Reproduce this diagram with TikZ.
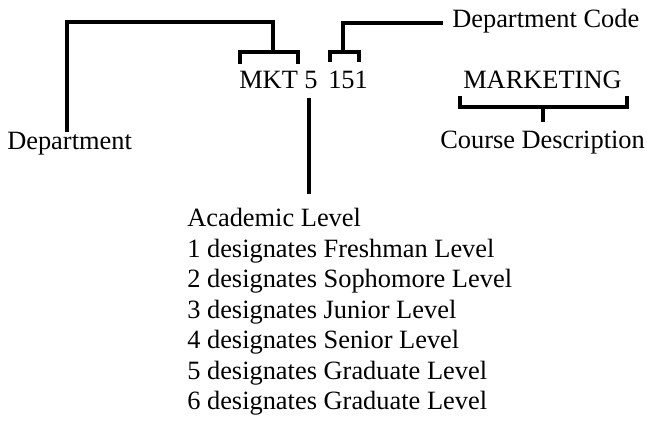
\documentclass[tikz,border=0pt]{standalone}
\usepackage{fontspec}
\setmainfont{Liberation Serif}
\usepackage{tikz}

\tikzset{lbl/.style={inner sep=0pt,anchor=base west,font=\fontsize{19.8}{23}\selectfont},
         brk/.style={line width=2.6pt}}

\begin{document}
\begin{tikzpicture}[x=0.75pt,y=-0.75pt]
\useasboundingbox (0,0) rectangle (647,421);

% the course number and its parts
\node[lbl] (mkt) at (239,88) {MKT};
\node[lbl] (five) at (304,88) {5};
\node[lbl] (num) at (328,88) {151};
\node[lbl] (mark) at (463,88) {MARKETING};

\node[lbl] (dept) at (7,149) {Department};
\node[lbl] (dcode) at (452,27) {Department Code};
\node[lbl] (cdesc) at (440,148) {Course Description};

\foreach \t [count=\i from 0] in {Academic Level,1 designates Freshman Level,%
    2 designates Sophomore Level,3 designates Junior Level,4 designates Senior Level,%
    5 designates Graduate Level,6 designates Graduate Level}{% one line each
    \node[lbl] (lvl\i) at (187,{226.5+30.5*\i}) {\t};}

\coordinate (mktL) at (240,64);
\coordinate (mktR) at (298,64);
\coordinate (mktTop) at (273,52);
\coordinate (deptTurn) at (273,22);
\coordinate (deptEnd) at (67,132);
\coordinate (numL) at (330,62);
\coordinate (numR) at (359,62);
\coordinate (numTop) at (343,52);
\coordinate (dcodeEnd) at (443,23);
\coordinate (stemTop) at (309,98);
\coordinate (stemEnd) at (309,194);
\coordinate (markL) at (460,96);
\coordinate (markR) at (627,96);
\coordinate (markMid) at (543,107);
\coordinate (markEnd) at (543,122);

\draw[brk] (mktL) -- ++(0,-12) -| (mktR);
\draw[brk] (deptEnd) |- (deptTurn) -- (mktTop);

\draw[brk] (numL) -- ++(0,-10) -| (numR);
\draw[brk] (numTop) |- (dcodeEnd);

\draw[brk] (stemTop) -- (stemEnd);

\draw[brk] (markL) -- ++(0,11) -| (markR);
\draw[brk] (markMid) -- (markEnd);

\end{tikzpicture}
\end{document}
